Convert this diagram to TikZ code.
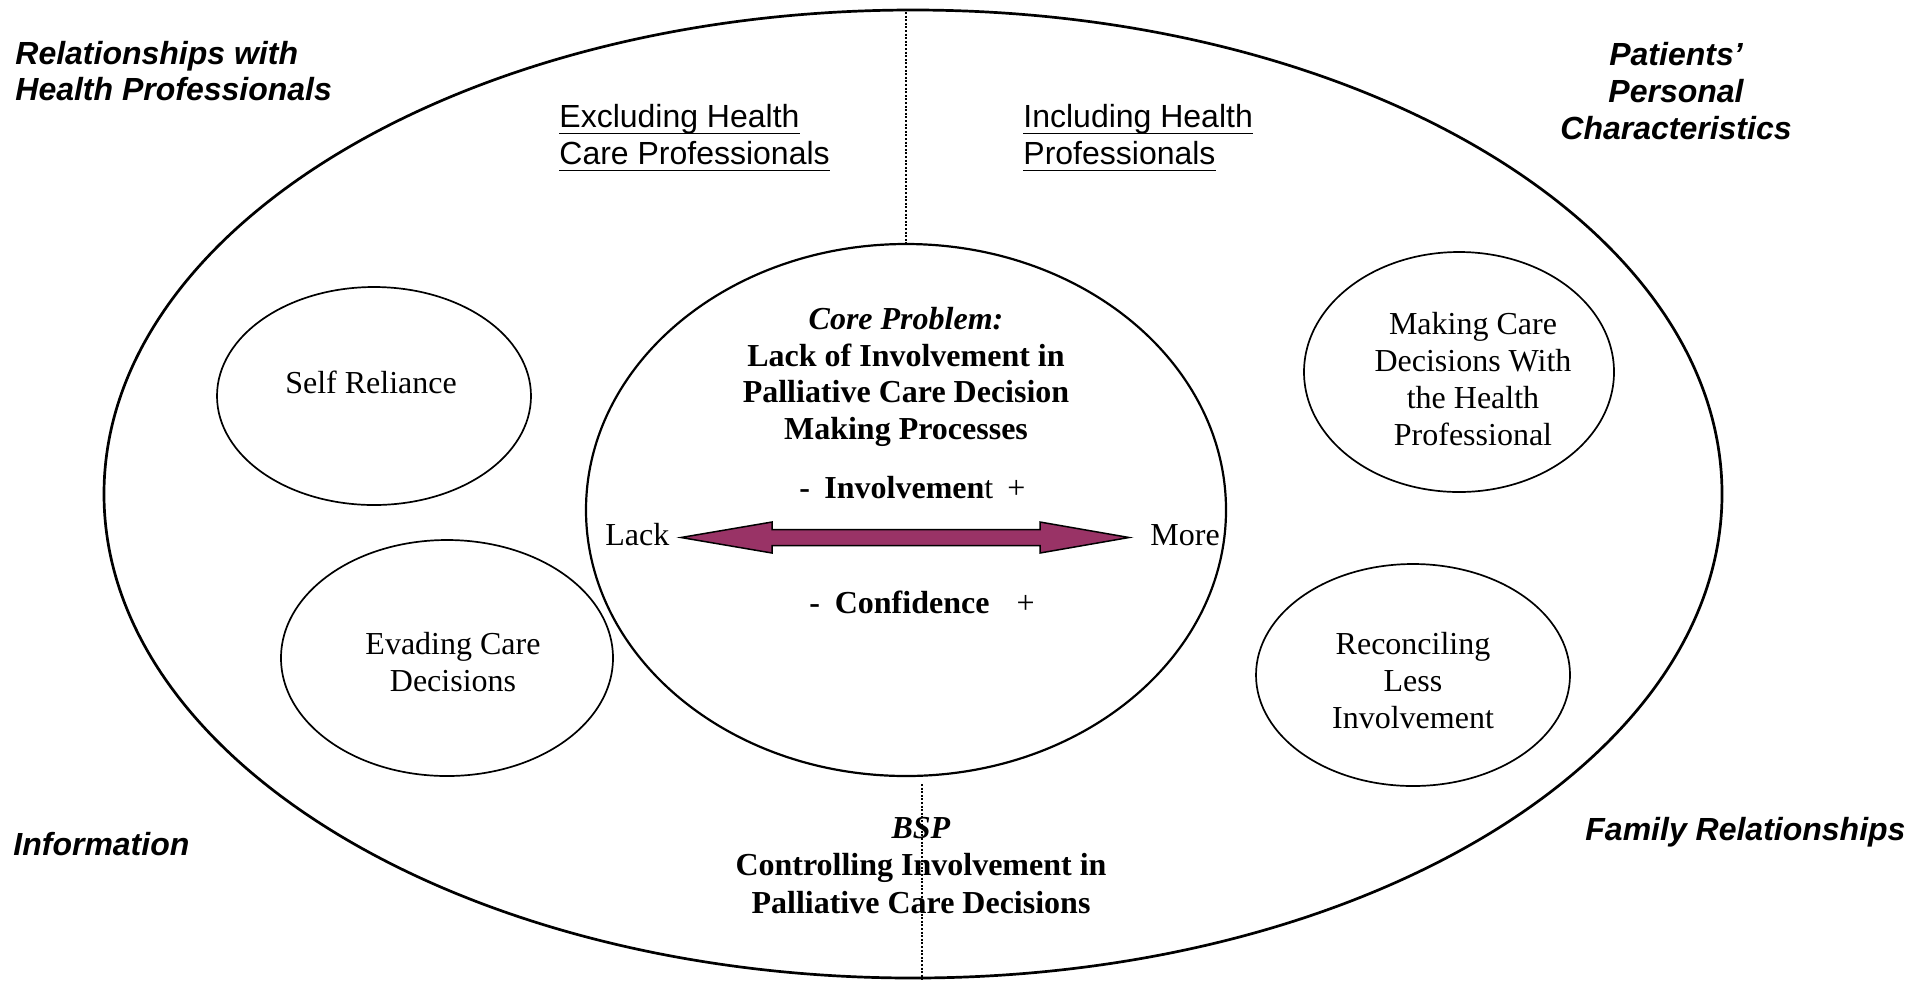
\documentclass[tikz,border=0pt]{standalone}
\usepackage{fontspec}
\setmainfont{Liberation Serif}
\newfontfamily\arialfont{Liberation Sans}
\usetikzlibrary{shapes.geometric}
\definecolor{plum}{RGB}{153,51,102}
\newcommand\myul[1]{\setbox0\hbox{#1}\rlap{\rule[-3.2pt]{\wd0}{0.9pt}}\box0}
\tikzset{
  oval/.style={ellipse, draw, inner sep=0pt, line width=0.85pt},
  lab/.style={font=\arialfont\bfseries\itshape\fontsize{16}{18}\selectfont, inner sep=0pt},
  sub/.style={font=\arialfont\fontsize{16}{18.5}\selectfont, inner sep=0pt, align=left},
  tm/.style={font=\fontsize{16}{18}\selectfont, inner sep=0pt},
  tmc/.style={font=\fontsize{16}{18.4}\selectfont, inner sep=0pt, align=center},
  dotline/.style={line width=0.8pt, dash pattern=on 1pt off 0.8pt},
}
\begin{document}
\begin{tikzpicture}[x=0.5pt, y=-0.5pt]
\useasboundingbox[fill=white] (0,0) rectangle (1925,981);
% ellipses
\node[oval, line width=1.35pt, minimum width=809pt, minimum height=484pt] (big) at (913,494) {};
\node[oval, line width=1.1pt, minimum width=320pt, minimum height=266pt] (core) at (906,510) {};
\node[oval, minimum width=157pt, minimum height=109pt] (selfE) at (374,396) {};
\node[oval, minimum width=166pt, minimum height=118pt] (evadE) at (447,658) {};
\node[oval, minimum width=155pt, minimum height=120pt] (makeE) at (1459,372) {};
\node[oval, minimum width=157pt, minimum height=111pt] (recoE) at (1413,675) {};
% dotted dividers
\coordinate (tt) at (906,12);
\coordinate (bt) at (922,784);
\coordinate (bb) at (922,981);
\draw[dotline] (tt) -- (core.north);
\draw[dotline] (bt) -- (bb);
% corner labels
\node[lab, anchor=west, align=left] (rel) at (15,75.3) {\strut Relationships with\\\strut Health Professionals};
\node[lab, anchor=center, align=center, font=\arialfont\bfseries\itshape\fontsize{16}{18.7}\selectfont] (pat) at (1676,95) {\strut Patients’\\\strut Personal\\\strut Characteristics};
\node[lab, anchor=base west] (info) at (13,855) {Information};
\node[lab, anchor=base west] (fam) at (1585,840) {Family Relationships};
% headings
\node[sub, anchor=west] (excl) at (559,139) {\strut\myul{Excluding Health}\\\strut\myul{Care Professionals}};
\node[sub, anchor=west] (incl) at (1023,139) {\strut\myul{Including Health}\\\strut\myul{Professionals}};
% ellipse texts
\node[tm, anchor=base] (selfT) at (371,393) {Self Reliance};
\node[tmc, font=\fontsize{16}{18.5}\selectfont] (evadT) at (453,666) {\strut Evading Care\\\strut Decisions};
\node[tmc] (makeT) at (1473,382.7) {\strut Making Care\\\strut Decisions With\\\strut the Health\\\strut Professional};
\node[tmc] (recoT) at (1413,684) {\strut Reconciling\\\strut Less\\\strut Involvement};
\node[tmc, font=\fontsize{16}{18.3}\selectfont] (coreT) at (906,377) {\strut\textbf{\textit{Core Problem:}}\\\strut\textbf{Lack of Involvement in}\\\strut\textbf{Palliative Care Decision}\\\strut\textbf{Making Processes}};
\node[tmc, font=\fontsize{16}{18.6}\selectfont] (bsp) at (921,868.5) {\strut\textbf{\textit{BSP}}\\\strut\textbf{Controlling Involvement in}\\\strut\textbf{Palliative Care Decisions}};
% involvement scale
\node[tm, anchor=base west] (inv) at (799,498) {\textbf{-}\hspace{7.2pt}\textbf{Involvemen}t\hspace{7pt}+};
\node[tm, anchor=base west] (conf) at (809,613) {\textbf{-}\hspace{7.4pt}\textbf{Confidence}\hspace{13.5pt}+};
\node[tm, anchor=base west] (lack) at (605,545) {Lack};
\node[tm, anchor=base west] (more) at (1150,545) {More};
\draw[fill=plum, line width=0.75pt] (681,537.5) -- (772,522) -- (772,529.5) -- (1040,529.5) -- (1040,522) -- (1129,537.5) -- (1040,553) -- (1040,545.5) -- (772,545.5) -- (772,553) -- cycle;
\end{tikzpicture}
\end{document}
